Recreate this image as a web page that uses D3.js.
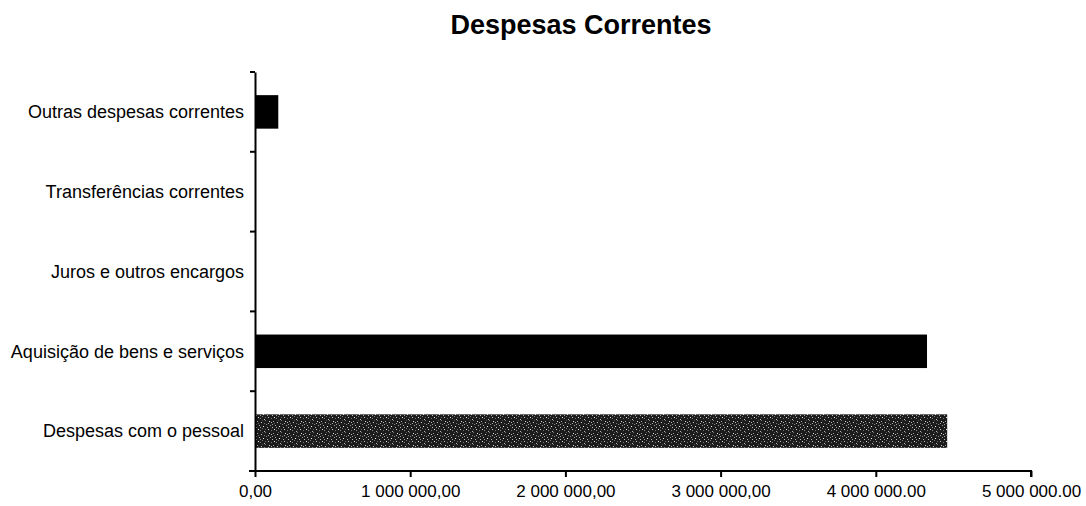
<!DOCTYPE html>
<html><head><meta charset="utf-8">
<script src="https://cdn.jsdelivr.net/npm/d3@7"></script>
<style>body{margin:0;background:#fff}svg{display:block}</style>
</head><body>
<svg id="c" width="1086" height="506"></svg>
<script>
const categories = ["Outras despesas correntes","Transferências correntes","Juros e outros encargos","Aquisição de bens e serviços","Despesas com o pessoal"];
const values = [150000, 0, 0, 4330000, 4460000];
const tickValues = [0, 1000000, 2000000, 3000000, 4000000, 5000000];
const tickLabels = ["0,00","1 000 000,00","2 000 000,00","3 000 000,00","4 000 000.00","5 000 000.00"];
const title = "Despesas Correntes";

(function(){
const svg = d3.select("#c");
const mLeft = 255, mRight = 1031, mTop = 72, mBottom = 471;
const x = d3.scaleLinear().domain([0, 5000000]).range([mLeft, mRight]);
const y = d3.scaleBand().domain(categories).range([mTop, mBottom]).paddingInner(0.58).paddingOuter(0.29);
const font = "Liberation Sans, Arial, sans-serif";

const defs = svg.append("defs");
const pat = defs.append("pattern").attr("id","tex").attr("patternUnits","userSpaceOnUse").attr("width",16).attr("height",12);
pat.append("rect").attr("width",16).attr("height",12).attr("fill","#1c1c1c");
[[1,1,"#999"],[5,2,"#ccc"],[9,0,"#777"],[3,5,"#aaa"],[7,6,"#eee"],[10,4,"#888"],[0,7,"#bbb"],[6,8,"#777"],[2,3,"#666"],[11,7,"#aaa"],
 [13,1,"#ddd"],[14,5,"#999"],[12,9,"#ccc"],[4,10,"#888"],[8,11,"#bbb"],[15,10,"#777"],[6,0,"#555"],[2,9,"#eee"],[9,9,"#666"],[12,3,"#aaa"],
 [4,7,"#999"],[15,2,"#bbb"],[8,3,"#777"],[0,4,"#999"]]
  .forEach(([px,py,c])=>pat.append("rect").attr("x",px).attr("y",py).attr("width",1).attr("height",1).attr("fill",c));

svg.append("text").attr("x",581).attr("y",34).attr("text-anchor","middle")
  .attr("font-family",font).attr("font-weight","bold").attr("font-size",27)
  .text(title);

svg.selectAll("rect.bar").data(categories).enter().append("rect").attr("class","bar")
  .attr("x", x(0)).attr("y", d=>y(d))
  .attr("width", (d,i)=>x(values[i])-x(0)).attr("height", y.bandwidth())
  .attr("fill", (d,i)=> i===4 ? "url(#tex)" : "#000");

const yAxis = d3.axisLeft(y).tickSize(0).tickFormat("");
const ya = svg.append("g").attr("transform",`translate(${mLeft},0)`).call(yAxis);
ya.select(".domain").attr("stroke","#000").attr("stroke-width",2);
svg.selectAll("line.yt").data(d3.range(categories.length+1)).enter().append("line")
  .attr("x1",mLeft-5).attr("x2",mLeft).attr("y1",i=>mTop+i*(mBottom-mTop)/categories.length).attr("y2",i=>mTop+i*(mBottom-mTop)/categories.length)
  .attr("stroke","#000").attr("stroke-width",2);
svg.selectAll("text.cat").data(categories).enter().append("text").attr("class","cat")
  .attr("x",244).attr("y",d=>y(d)+y.bandwidth()/2).attr("dy","0.35em").attr("text-anchor","end")
  .attr("font-family",font).attr("font-size",18).text(d=>d);

const xAxis = d3.axisBottom(x).tickValues(tickValues).tickSize(6).tickFormat((d,i)=>tickLabels[i]);
const xa = svg.append("g").attr("transform",`translate(0,${mBottom})`).call(xAxis);
xa.select(".domain").attr("stroke","#000").attr("stroke-width",2).attr("d",`M${mLeft-6},0H${mRight}V6`);
xa.selectAll(".tick line").attr("stroke","#000").attr("stroke-width",2);
xa.selectAll(".tick text").attr("font-family",font).attr("font-size",17).attr("fill","#000").attr("y",14).attr("dy","0.71em");
})();
</script>
</body></html>
